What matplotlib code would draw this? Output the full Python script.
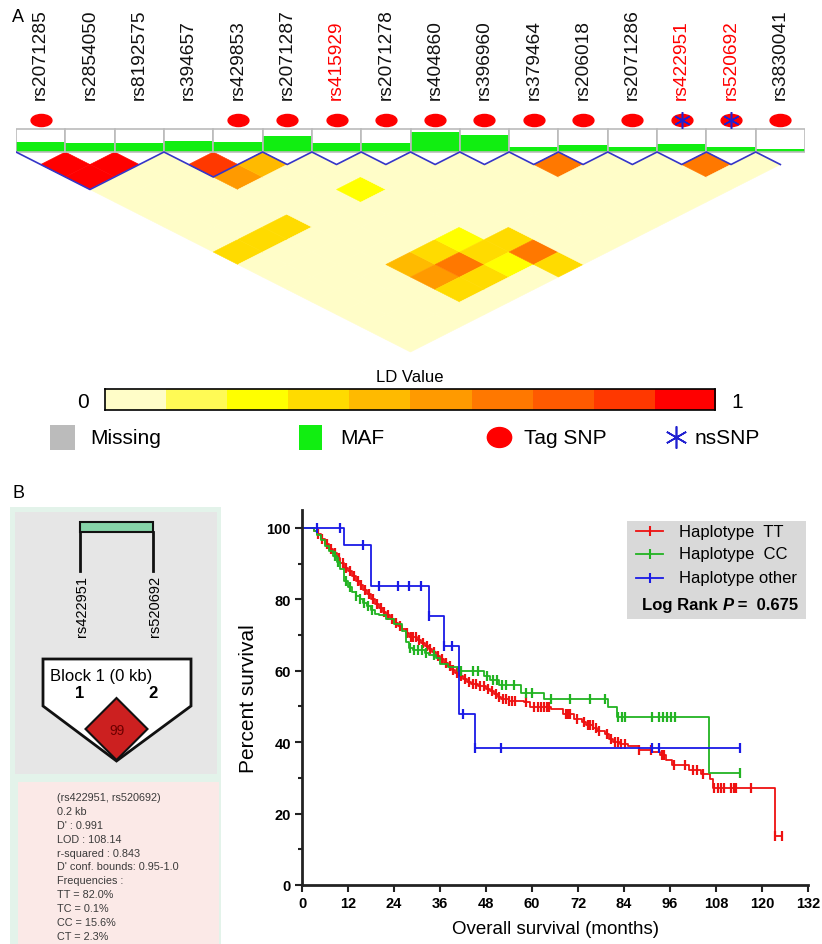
import matplotlib
matplotlib.use('Agg')
import matplotlib.pyplot as plt
import numpy as np
from matplotlib.patches import Rectangle, Polygon
from matplotlib.collections import PolyCollection
from matplotlib.colors import ListedColormap
from matplotlib.path import Path

plt.rcParams['font.family'] = ['Liberation Sans', 'DejaVu Sans']

W, H = 822, 945

# ---------------- panel A data ----------------
snps = ['rs2071285', 'rs2854050', 'rs8192575', 'rs394657', 'rs429853', 'rs2071287',
        'rs415929', 'rs2071278', 'rs404860', 'rs396960', 'rs379464', 'rs206018',
        'rs2071286', 'rs422951', 'rs520692', 'rs3830041']
red_snps = ['rs415929', 'rs422951', 'rs520692']
maf = [0.22, 0.20, 0.20, 0.24, 0.22, 0.35, 0.20, 0.20, 0.43, 0.37, 0.11, 0.15, 0.10, 0.17, 0.11, 0.07]
tag_snps = [0, 4, 5, 6, 7, 8, 9, 10, 11, 12, 13, 14, 15]
ns_snps = [13, 14]
blocks = [(0, 2), (3, 4)]
ld_pairs = [(0, 1, 0.98), (1, 2, 0.98), (0, 2, 0.98), (3, 4, 0.85), (4, 5, 0.45), (3, 5, 0.55),
            (5, 8, 0.25), (0, 8, 0.35), (1, 8, 0.35), (2, 8, 0.35),
            (5, 12, 0.25), (6, 13, 0.35), (4, 12, 0.35), (4, 13, 0.65), (3, 12, 0.45),
            (3, 13, 0.55), (3, 14, 0.35), (5, 13, 0.35), (5, 14, 0.25), (4, 14, 0.35),
            (6, 14, 0.68), (6, 15, 0.35), (10, 11, 0.68), (13, 14, 0.68)]
ld_colors = ['#FFFDC8', '#FFFA55', '#FFFF00', '#FFDB00', '#FFBA00',
             '#FF9A00', '#FF7800', '#FF5A00', '#FF3800', '#FF0000']

# ---------------- panel B data ----------------
block_snps = ['rs422951', 'rs520692']
block_name = 'Block 1 (0 kb)'
block_d = '99'
block_info = ['(rs422951, rs520692)', '0.2 kb', "D' : 0.991", 'LOD : 108.14',
              'r-squared : 0.843', "D' conf. bounds: 0.95-1.0", 'Frequencies :',
              'TT = 82.0%', 'TC = 0.1%', 'CC = 15.6%', 'CT = 2.3%']

tt_t = [0, 3, 4, 5, 6, 7, 8, 9, 10, 11, 12, 13, 14, 15, 16, 17, 18, 19, 20, 21, 22, 23, 24,
        25, 26, 27, 28, 30, 31, 32, 33, 34, 35, 36, 37, 38, 39, 40, 41, 42, 43, 44, 46, 48,
        49, 50, 51, 52, 54, 58, 59.5, 65, 68, 71, 73, 74, 76, 77, 79, 80, 81, 83, 85, 88,
        91.3, 93.5, 95, 96.5, 101, 104, 106.5, 107.3, 123.3]
tt_s = [100, 99.2, 98.4, 97.0, 95.6, 94.2, 93.0, 91.5, 90.2, 88.9, 87.8, 86.6, 85.2, 84.0,
        82.6, 81.4, 80.0, 78.8, 77.5, 76.5, 75.5, 74.4, 73.4, 72.5, 71.6, 70.5, 69.4, 68.6,
        67.8, 67.0, 66.2, 65.2, 64.2, 63.2, 62.2, 61.3, 60.3, 59.4, 58.4, 57.6, 56.9, 56.3,
        55.6, 55.0, 54.2, 53.4, 52.7, 52.0, 51.6, 51.2, 49.9, 49.4, 48.0, 46.6, 45.6, 44.7,
        44.0, 43.2, 42.2, 41.0, 40.0, 39.5, 38.8, 37.7, 37.2, 36.3, 34.9, 33.5, 32.1, 31.2,
        29.8, 27.2, 13.6]
tt_end = 125.3
tt_cens = [4.3, 5.3, 6.4, 7.5, 8.5, 9.6, 10.6, 11.6, 12.6, 13.5, 14.5, 15.5, 16.5, 17.5, 18.5,
           19.5, 20.5, 21.5, 22.5, 23.5, 24.5, 25.5, 27.4, 28.4, 29.0, 29.7, 30.5, 31.5, 32.5,
           33.5, 34.5, 35.5, 36.5, 37.5, 38.5, 39.5, 40.5, 41.5, 42.5, 43.5, 44.5, 45.5, 46.5,
           47.5, 48.5, 49.5, 50.5, 51.5, 52.5, 53.2, 54.0, 54.8, 55.6, 58.5, 60.5, 61.5, 62.3,
           63.0, 63.8, 64.5, 68.8, 69.4, 70.0, 71.8, 73.5, 74.5, 75.2, 75.9, 76.6, 77.6, 79.6,
           80.5, 81.6, 82.5, 83.3, 84.2, 88.0, 91.0, 93.8, 94.4, 97.0, 100.0, 102.0, 103.0,
           104.6, 107.6, 108.6, 109.4, 110.2, 111.9, 112.6, 113.3, 117.0, 123.3, 125.3]

cc_t = [0, 3, 4, 5, 6, 7, 8, 9, 10, 11, 12, 13, 14, 15, 16, 17, 18, 19, 20, 22, 24, 26, 27,
        28, 29, 32, 33, 35, 36, 38, 40.7, 47.5, 49, 51.5, 57, 63, 79.9, 82.2, 106.3]
cc_s = [100, 99, 98, 96.5, 95, 93.5, 92, 90.5, 88.5, 85, 83.5, 82, 81, 80, 79, 78, 77, 76,
        75.5, 74.5, 73, 71, 68, 66.5, 65.8, 65, 64.5, 63.5, 62, 61, 60, 58.5, 57.5, 56, 53.8,
        52.0, 49.8, 47.1, 31.4]
cc_end = 114.2
cc_cens = [8.5, 9.5, 11.5, 12.5, 14.2, 15.2, 16.2, 17.2, 18.3, 28.3, 29.3, 30.3, 31.2, 32.3,
           34.5, 41.5, 44.5, 45.8, 48.2, 49.8, 50.8, 52.3, 53.3, 55.2, 58.5, 60.0, 65.0, 70.0,
           75.0, 79.0, 82.4, 83.4, 84.3, 91.3, 93.2, 94.2, 95.2, 96.2, 97.2, 114.2]

ot_t = [0, 11, 18, 33, 37, 41, 45]
ot_s = [100, 95.2, 83.8, 75.4, 67.0, 47.9, 38.3]
ot_end = 114.2
ot_cens = [4, 10, 16, 20, 25, 28, 31, 33, 37, 39, 42, 45, 52, 91.3, 93, 114.2]

groups = [('Haplotype  TT', '#EE1111', tt_t, tt_s, tt_end, tt_cens),
          ('Haplotype  CC', '#22B322', cc_t, cc_s, cc_end, cc_cens),
          ('Haplotype other', '#1A1AE6', ot_t, ot_s, ot_end, ot_cens)]
log_rank_p = '0.675'

fig = plt.figure(figsize=(W / 100, H / 100), dpi=100)

# overlay axes in pixel coordinates for labels / boxes
ov = fig.add_axes([0, 0, 1, 1])
ov.set_xlim(0, W)
ov.set_ylim(H, 0)
ov.axis('off')

ov.text(18, 18, 'A', fontsize=13, va='center', ha='center')
ov.text(18, 494, 'B', fontsize=13, va='center', ha='center')

# ---------------- LD plot ----------------
ax = fig.add_axes([16 / W, 1 - 360 / H, 789 / W, 360 / H])
ax.set_xlim(-0.5, 15.5)
ax.set_ylim(16.56, -12.24)
ax.axis('off')

n = len(snps)
ld = {(i, j): v for i, j, v in ld_pairs}
polys, cols = [], []
for i in range(n):
    for j in range(i + 1, n):
        c, k = (i + j) / 2, j - i
        polys.append([(c, k - 1), (c + 0.5, k), (c, k + 1), (c - 0.5, k)])
        cols.append(ld_colors[min(int(ld.get((i, j), 0) * 10), 9)])
ax.add_collection(PolyCollection(polys, facecolors=cols, edgecolors=cols, linewidths=0.4))

# outline: zigzag with block triangles
pts = [(-0.5, 0)]
i = 0
while i < n:
    blk = [b for b in blocks if b[0] == i]
    if blk:
        s, e = blk[0]
        pts += [(s, 1), ((s + e) / 2, e - s + 1), (e, 1)]
        i = e
    else:
        pts.append((i, 1))
    if i < n - 1:
        pts.append((i + 0.5, 0))
    i += 1
pts = np.array(pts)
ax.plot(pts[:, 0], pts[:, 1], color='#3535C8', lw=1.2)

# MAF boxes
box_h = 1.84
for i, m in enumerate(maf):
    ax.add_patch(Rectangle((i - 0.5, -box_h), 1, box_h, fc='white', ec='none'))
    gh = m / 0.5 * box_h
    ax.add_patch(Rectangle((i - 0.5, -gh), 1, gh, fc='#11EE11', ec='none'))
    ax.add_patch(Rectangle((i - 0.5, -box_h), 1, box_h, fc='none', ec='#BBBBBB', lw=1.2))

circ = Path.unit_circle()
ell = Path(circ.vertices * np.array([1.0, 0.58]), circ.codes)
ell2 = Path(circ.vertices * np.array([1.0, 0.82]), circ.codes)
ax.plot(tag_snps, [-2.56] * len(tag_snps), ls='none', marker=ell, ms=15,
        color='#FF0000', mec='#FF0000')
ax.plot(ns_snps, [-2.56] * len(ns_snps), ls='none', marker=(6, 2, 0), ms=12,
        mew=1.1, color='#2020D0')

for i, name in enumerate(snps):
    ax.text(i, -4.24, name, rotation=90, ha='center', va='bottom', fontsize=13.8,
            color='#FF0000' if name in red_snps else '#111111')

# colour bar
cax = fig.add_axes([105 / W, 1 - 411 / H, 610 / W, 21 / H])
cax.imshow(np.arange(10)[None, :], cmap=ListedColormap(ld_colors), aspect='auto')
cax.set_xticks([])
cax.set_yticks([])
for sp in cax.spines.values():
    sp.set_linewidth(1.2)
ov.text(410, 377, 'LD Value', fontsize=12, ha='center', va='center')
ov.text(83, 402, '0', fontsize=15, ha='center', va='center')
ov.text(737, 402, '1', fontsize=15, ha='center', va='center')

# legend row
ov.add_patch(Rectangle((50, 426), 25, 25, fc='#BBBBBB', ec='none'))
ov.text(90, 439, 'Missing', fontsize=15, va='center')
ov.add_patch(Rectangle((299, 426), 23, 25, fc='#11EE11', ec='none'))
ov.text(340, 439, 'MAF', fontsize=15, va='center')
ov.plot([499], [438], marker=ell2, ms=17.5, color='#FF0000', ls='none')
ov.text(524, 439, 'Tag SNP', fontsize=15, va='center')
ov.plot([676], [438], marker=(6, 2, 0), ms=16, mew=1.2, color='#2020D0', ls='none')
ov.text(695, 439, 'nsSNP', fontsize=15, va='center')

# ---------------- panel B left: haplotype block ----------------
ov.add_patch(Rectangle((10, 508), 211, 437, fc='#E3F3EA', ec='none'))
ov.add_patch(Rectangle((15, 513), 202, 262, fc='#E6E6E6', ec='none'))
ov.add_patch(Rectangle((18, 783), 201, 162, fc='#FBE9E7', ec='none'))

bx = [80, 153]
ov.add_patch(Rectangle((bx[0], 523), bx[1] - bx[0], 10, fc='#86D3A8', ec='#111111', lw=1.5))
for x, name in zip(bx, block_snps):
    ov.plot([x, x], [533, 572], color='#111111', lw=2)
    ov.text(x + 2, 576, name, rotation=90, ha='center', va='top', fontsize=10.5)
cx = np.mean(bx)
ov.add_patch(Polygon([(43, 660), (191, 660), (191, 707), (cx, 762), (43, 707)],
                     closed=True, fc='white', ec='#111111', lw=2))
ov.text(50, 676, block_name, fontsize=12, va='center')
for x, lab in zip(bx, ['1', '2']):
    ov.text(x, 694, lab, fontsize=12, fontweight='bold', ha='center', va='center')
ov.add_patch(Polygon([(cx, 699), (cx + 31, 730), (cx, 761), (cx - 31, 730)],
                     closed=True, fc='#CC2020', ec='#111111', lw=1.5))
ov.text(cx, 731, block_d, fontsize=10, ha='center', va='center', color='#6B0000')

for k, line in enumerate(block_info):
    ov.text(57, 798 + 13.9 * k, line, fontsize=7.8, va='center', color='#3A3A3A')

# ---------------- panel B right: survival ----------------
kx = fig.add_axes([302 / W, 1 - 886 / H, 506 / W, 375 / H])
kx.set_xlim(0, 132)
kx.set_ylim(0, 105)
for sp in ['top', 'right']:
    kx.spines[sp].set_visible(False)
for sp in ['left', 'bottom']:
    kx.spines[sp].set_linewidth(2)
    kx.spines[sp].set_color('#222222')

for label, color, t, s, end, cens in groups:
    t = np.array(t, float)
    s = np.array(s, float)
    kx.step(np.append(t, end), np.append(s, s[-1]), where='post', color=color, lw=1.3)
    idx = np.searchsorted(t, cens, side='right') - 1
    kx.plot(cens, s[idx], ls='none', marker='|', ms=7, mew=1.6, color=color)

kx.set_xticks(range(0, 133, 12))
kx.set_yticks(range(0, 101, 20))
kx.set_yticks(range(10, 100, 20), minor=True)
kx.tick_params(which='major', length=5, width=1.5, labelsize=10.5, pad=3, color='#222222')
kx.tick_params(which='minor', length=3, width=1.5, color='#222222')
for lab in kx.get_xticklabels() + kx.get_yticklabels():
    lab.set_fontweight('bold')
kx.set_xlabel('Overall survival (months)', fontsize=13.5, labelpad=7)
kx.set_ylabel('Percent survival', fontsize=15, labelpad=6)

# legend
kx.add_patch(Rectangle((0.642, 0.709), 0.354, 0.262, transform=kx.transAxes,
                       fc='#D9D9D9', ec='none', clip_on=False))
for (label, color, *_), y in zip(groups, [0.944, 0.883, 0.819]):
    kx.plot([0.660, 0.713], [y, y], color=color, lw=1.3, transform=kx.transAxes, clip_on=False)
    kx.plot([0.687], [y], marker='|', ms=7, mew=1.5, color=color,
            transform=kx.transAxes, clip_on=False)
    kx.text(0.745, y, label, fontsize=12, va='center', transform=kx.transAxes)
t1 = kx.text(0.672, 0.747, 'Log Rank ', fontsize=12, fontweight='bold', va='center',
             transform=kx.transAxes)
t2 = kx.annotate('P', xy=(1, 0), xycoords=t1, fontsize=12, fontweight='bold',
                 fontstyle='italic', va='bottom')
kx.annotate(' =  ' + log_rank_p, xy=(1, 0), xycoords=t2, fontsize=12, fontweight='bold',
            va='bottom')

fig.savefig('out.png', dpi=100)
